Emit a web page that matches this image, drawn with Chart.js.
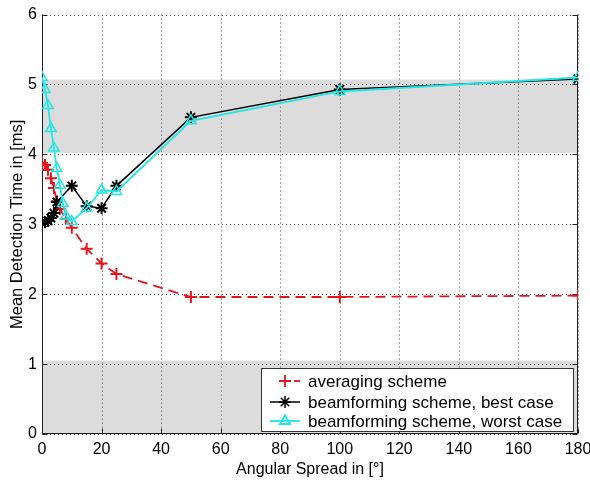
<!DOCTYPE html>
<html>
<head>
<meta charset="utf-8">
<script src="https://cdn.jsdelivr.net/npm/chart.js@4.4.1/dist/chart.umd.min.js"></script>
<style>
  html, body { margin: 0; padding: 0; background: #fff; }
  #wrap { width: 590px; height: 481px; }
</style>
</head>
<body>
<div id="wrap"><canvas id="chart" width="590" height="481"></canvas></div>
<script>
// ── Dados ──────────────────────────────────────────────────────
const xAvg   = [0, 1, 2, 3, 4, 5, 6, 8, 10, 15, 20, 25, 50, 100, 180];
const yAvg   = [3.88, 3.85, 3.78, 3.66, 3.52, 3.33, 3.22, 3.08, 2.95, 2.65, 2.44, 2.29, 1.96, 1.96, 1.98];

const xBest  = [0, 1, 2, 3, 4, 5, 10, 15, 20, 25, 50, 100, 180];
const yBest  = [3.02, 3.03, 3.05, 3.09, 3.16, 3.32, 3.55, 3.26, 3.23, 3.55, 4.53, 4.93, 5.08];

const xWorst = [0, 1, 2, 3, 4, 5, 6, 7, 8, 10, 15, 20, 25, 50, 100, 180];
const yWorst = [5.1, 4.93, 4.7, 4.37, 4.09, 3.8, 3.56, 3.3, 3.12, 3.04, 3.23, 3.49, 3.47, 4.48, 4.9, 5.1];

const seriesLabels = ['averaging scheme', 'beamforming scheme, best case', 'beamforming scheme, worst case'];

// faixas cinzas (em unidades do eixo y)
const bandLow  = [0, 1.05];
const bandHigh = [4.02, 5.07];

const FONT = 'Liberation Sans, Arial, Helvetica, sans-serif';

function pontos(xs, ys) {
    return xs.map((x, i) => ({ x: x, y: ys[i] }));
}

// ── Plugin: faixas, grade pontilhada, moldura e legenda ────────
const figurePlugin = {
    id: 'figure',
    beforeDatasetsDraw(chart) {
        const { ctx, chartArea: a, scales: { x, y } } = chart;
        ctx.save();
        ctx.fillStyle = '#dcdcdc';
        [bandLow, bandHigh].forEach(b => {
            const top = y.getPixelForValue(b[1]);
            const bot = y.getPixelForValue(b[0]);
            ctx.fillRect(a.left, top, a.right - a.left, bot - top);
        });

        // grade pontilhada
        ctx.strokeStyle = '#555';
        ctx.lineWidth = 1;
        ctx.setLineDash([1, 3]);
        x.ticks.forEach(t => {
            const px = Math.round(x.getPixelForValue(t.value)) + 0.5;
            ctx.beginPath(); ctx.moveTo(px, a.top); ctx.lineTo(px, a.bottom); ctx.stroke();
        });
        y.ticks.forEach(t => {
            const py = Math.round(y.getPixelForValue(t.value)) + 0.5;
            ctx.beginPath(); ctx.moveTo(a.left, py); ctx.lineTo(a.right, py); ctx.stroke();
        });
        ctx.setLineDash([]);

        // eixos (esquerda, baixo, direita)
        ctx.strokeStyle = '#222';
        const L = Math.round(a.left) + 0.5, R = Math.round(a.right) - 0.5, B = Math.round(a.bottom) - 0.5;
        ctx.beginPath();
        ctx.moveTo(L, a.top); ctx.lineTo(L, B); ctx.lineTo(R, B); ctx.lineTo(R, a.top);
        // marcas internas
        y.ticks.forEach(t => {
            const py = Math.round(y.getPixelForValue(t.value)) + 0.5;
            ctx.moveTo(L, py); ctx.lineTo(L + 5, py);
            ctx.moveTo(R, py); ctx.lineTo(R - 5, py);
        });
        x.ticks.forEach(t => {
            const px = Math.round(x.getPixelForValue(t.value)) + 0.5;
            ctx.moveTo(px, B); ctx.lineTo(px, B - 5);
        });
        ctx.stroke();
        ctx.restore();
    },
    afterDraw(chart) {
        const { ctx } = chart;
        ctx.save();

        // legenda
        const bx = 261, by = 368, bw = 312, bh = 63;
        ctx.fillStyle = '#fff';
        ctx.fillRect(bx, by, bw, bh);
        ctx.strokeStyle = '#333';
        ctx.lineWidth = 1;
        ctx.strokeRect(bx + 0.5, by + 0.5, bw, bh);

        ctx.font = '17px ' + FONT;
        ctx.textBaseline = 'middle';
        const rows = [381, 402, 421];
        chart.data.datasets.forEach((ds, i) => {
            const yy = rows[i];
            ctx.strokeStyle = ds.borderColor;
            ctx.lineWidth = ds.borderWidth;
            ctx.beginPath();
            if (ds.borderDash) {
                ctx.moveTo(294, yy); ctx.lineTo(300, yy);
            } else {
                ctx.moveTo(270, yy); ctx.lineTo(300, yy);
            }
            ctx.stroke();
            ctx.strokeStyle = ds.pointBorderColor;
            ctx.fillStyle = 'rgba(0,0,0,0)';
            Chart.helpers.drawPoint(ctx, {
                pointStyle: ds.pointStyle,
                radius: ds.pointRadius,
                borderWidth: ds.pointBorderWidth
            }, 285, yy);
            ctx.fillStyle = '#000';
            ctx.fillText(ds.label, 308, yy + 1);
        });
        ctx.restore();
    }
};

const hiddenGrid = { color: 'rgba(0,0,0,0)', drawTicks: false };

const ctx = document.getElementById('chart').getContext('2d');
new Chart(ctx, {
    type: 'line',
    data: {
        datasets: [{
            label: seriesLabels[0],
            data: pontos(xAvg, yAvg),
            borderColor: '#e8141c',
            backgroundColor: 'transparent',
            borderWidth: 1.8,
            borderDash: [10, 6],
            pointStyle: 'cross',
            pointRadius: 6,
            pointBorderWidth: 2,
            pointBorderColor: '#e8141c',
            order: 3
        }, {
            label: seriesLabels[1],
            data: pontos(xBest, yBest),
            borderColor: '#000',
            backgroundColor: 'transparent',
            borderWidth: 1.5,
            pointStyle: 'star',
            pointRadius: 6,
            pointBorderWidth: 2,
            pointBorderColor: '#000',
            order: 2
        }, {
            label: seriesLabels[2],
            data: pontos(xWorst, yWorst),
            borderColor: '#22e6e6',
            backgroundColor: 'transparent',
            borderWidth: 1.8,
            pointStyle: 'triangle',
            pointRadius: 6,
            pointBorderWidth: 1.5,
            pointBorderColor: '#22e6e6',
            pointBackgroundColor: 'transparent',
            order: 1
        }]
    },
    options: {
        responsive: false,
        animation: false,
        events: [],
        layout: { padding: { top: 13, right: 12, left: 0, bottom: 0 } },
        plugins: { legend: { display: false }, tooltip: { enabled: false } },
        scales: {
            x: {
                type: 'linear',
                min: 0, max: 180,
                afterFit: s => { s.height = 47; s.paddingLeft = 0; s.paddingRight = 0; },
                ticks: { stepSize: 20, color: '#000', font: { family: FONT, size: 16 }, padding: 6, maxRotation: 0 },
                grid: hiddenGrid,
                border: { display: false },
                title: { display: true, text: 'Angular Spread in [°]', color: '#000', font: { family: FONT, size: 16 }, padding: { top: 0, bottom: 2 } }
            },
            y: {
                min: 0, max: 6,
                afterFit: s => { s.width = 42; },
                ticks: { stepSize: 1, color: '#000', font: { family: FONT, size: 16 }, padding: 5 },
                grid: hiddenGrid,
                border: { display: false },
                title: { display: true, text: 'Mean Detection Time in [ms]', color: '#000', font: { family: FONT, size: 16.5 }, padding: { top: 8, bottom: 0 } }
            }
        }
    },
    plugins: [figurePlugin]
});
</script>
</body>
</html>
